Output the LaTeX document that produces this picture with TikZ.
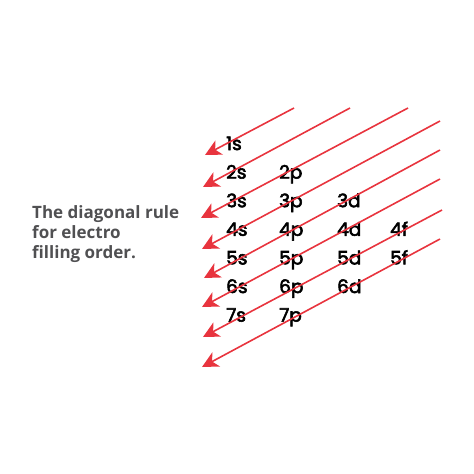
\documentclass[tikz,border=0pt]{standalone}
\usepackage{fontspec}
\setmainfont{Open Sans}
\newfontfamily\orbfont[FakeBold=3]{Poppins}
\usetikzlibrary{arrows.meta}
\definecolor{arrowred}{HTML}{E8343E}
\definecolor{textgray}{HTML}{505052}
\tikzset{
    diag/.style={draw=arrowred, line width=1.6pt, -{Stealth[length=16pt,width=16pt,inset=4.5pt]}},
    orbital/.style={anchor=base west, inner sep=0pt, font=\orbfont\fontsize{18.5}{20}\selectfont},
}
\begin{document}
\begin{tikzpicture}[x=1pt,y=-1pt]
                \useasboundingbox (0,0) rectangle (474,474);
                \node[anchor=west, inner sep=0pt, align=left, text=textgray, font=\bfseries\fontsize{17}{20}\selectfont] (rule) at (32,234) {The diagonal rule\\for electro\\filling order.};
                % subshells, row by row
                \foreach \n/\m [count=\r] in {1/1,2/2,3/3,4/4,5/4,6/3,7/2} {
                    \foreach \l/\x [count=\c] in {s/226,p/279,d/337,f/390} {
                        \ifnum\c>\m\else
                            \node[orbital] (\n\l) at (\x,150+28.6*\r-28.6) {\n\l};
                        \fi
                    }
                }
                % filling order arrows
                \foreach \i/\xa/\ya/\xb/\yb in {1/294/108/205/155, 2/350/108/203/187, 3/408/108/201/218, 4/440/121/202/249,
                        5/440/150/204/278, 6/440/179/202/307, 7/442/210/203/337, 8/440/239/202/367} {
                    \coordinate (start\i) at (\xa,\ya);
                    \coordinate (tip\i) at (\xb,\yb);
                    \draw[diag] (start\i) -- (tip\i);
                }
            \end{tikzpicture}
\end{document}
